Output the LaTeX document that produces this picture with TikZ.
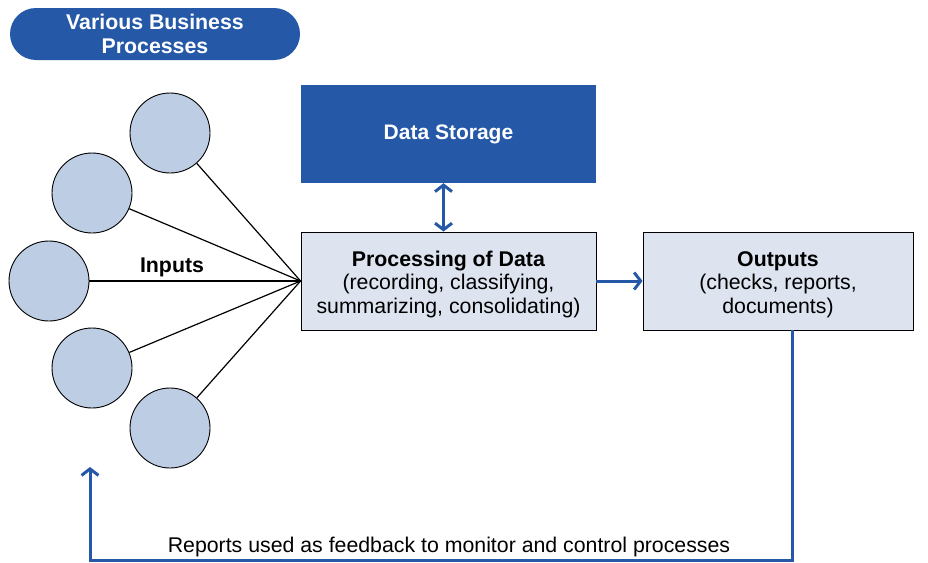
\documentclass[tikz,border=0pt]{standalone}
\usepackage{fontspec}
\setmainfont{Liberation Sans}
\usetikzlibrary{arrows.meta}
\definecolor{dblue}{HTML}{2559A7}
\definecolor{cfill}{HTML}{BDCDE4}
\definecolor{bfill}{HTML}{DDE4F0}
\newcommand{\dropline}{\rule{0pt}{21.5pt}}
\tikzset{
  circ/.style={circle,draw=black,line width=0.9pt,fill=cfill,minimum size=80pt,inner sep=0pt},
  lightbox/.style={draw=black,line width=0.9pt,fill=bfill,inner sep=0pt,align=center,font=\fontsize{21.3}{23.5}\selectfont},
  darkbox/.style={fill=dblue,inner sep=0pt,text=white,align=center,font=\bfseries\fontsize{21}{23.5}\selectfont},
  inline/.style={draw=black,line width=1.2pt},
  tipb/.tip={Straight Barb[length=6.5pt,width=17pt,line width=3pt]},
  bluearrow/.style={draw=dblue,line width=3pt,-tipb},
}
\begin{document}
\begin{tikzpicture}[x=1pt,y=-1pt]
\useasboundingbox (0,0) rectangle (928,562);
% title pill
\node[fill=dblue,rounded corners=26pt,minimum width=290pt,minimum height=52pt,inner sep=0pt,text=white,align=center,font=\bfseries\fontsize{21.3}{24}\selectfont] (title) at (155,34) {Various Business\\Processes};
% boxes
\node[darkbox,minimum width=295pt,minimum height=98pt] (store) at (448.5,134) {Data Storage};
\node[lightbox,minimum width=295pt,minimum height=98pt] (proc) at (448.5,281) {\dropline\textbf{Processing of Data}\\(recording, classifying,\\summarizing, consolidating)};
\node[lightbox,minimum width=270pt,minimum height=98pt] (out) at (778,281) {\dropline\textbf{Outputs}\\(checks, reports,\\documents)};
% circles
\node[circ] (c1) at (170,133) {};
\node[circ] (c2) at (92,193) {};
\node[circ] (c3) at (49,281) {};
\node[circ] (c4) at (92,368) {};
\node[circ] (c5) at (170,428) {};
\coordinate (hub) at (proc.west);
\foreach \c in {c1,c2,c3,c4,c5} \draw[inline] (\c) -- (hub);
\node[font=\bfseries\fontsize{21.3}{24}\selectfont,anchor=base] (inlabel) at (172,272) {Inputs};
% arrows
\draw[draw=dblue,line width=3pt,tipb-tipb] ([xshift=-5pt]store.south) -- ([xshift=-5pt]proc.north);
\draw[bluearrow] (proc.east) -- (out.west);
\coordinate (fbr) at (792,560);
\coordinate (fbl) at (90,560);
\coordinate (fbend) at (90,467);
\draw[bluearrow] (out.south -| fbr) -- (fbr) -- (fbl) -- (fbend);
\node[font=\fontsize{21.3}{24}\selectfont,anchor=base] (fblabel) at (449,552) {Reports used as feedback to monitor and control processes};
\end{tikzpicture}
\end{document}
